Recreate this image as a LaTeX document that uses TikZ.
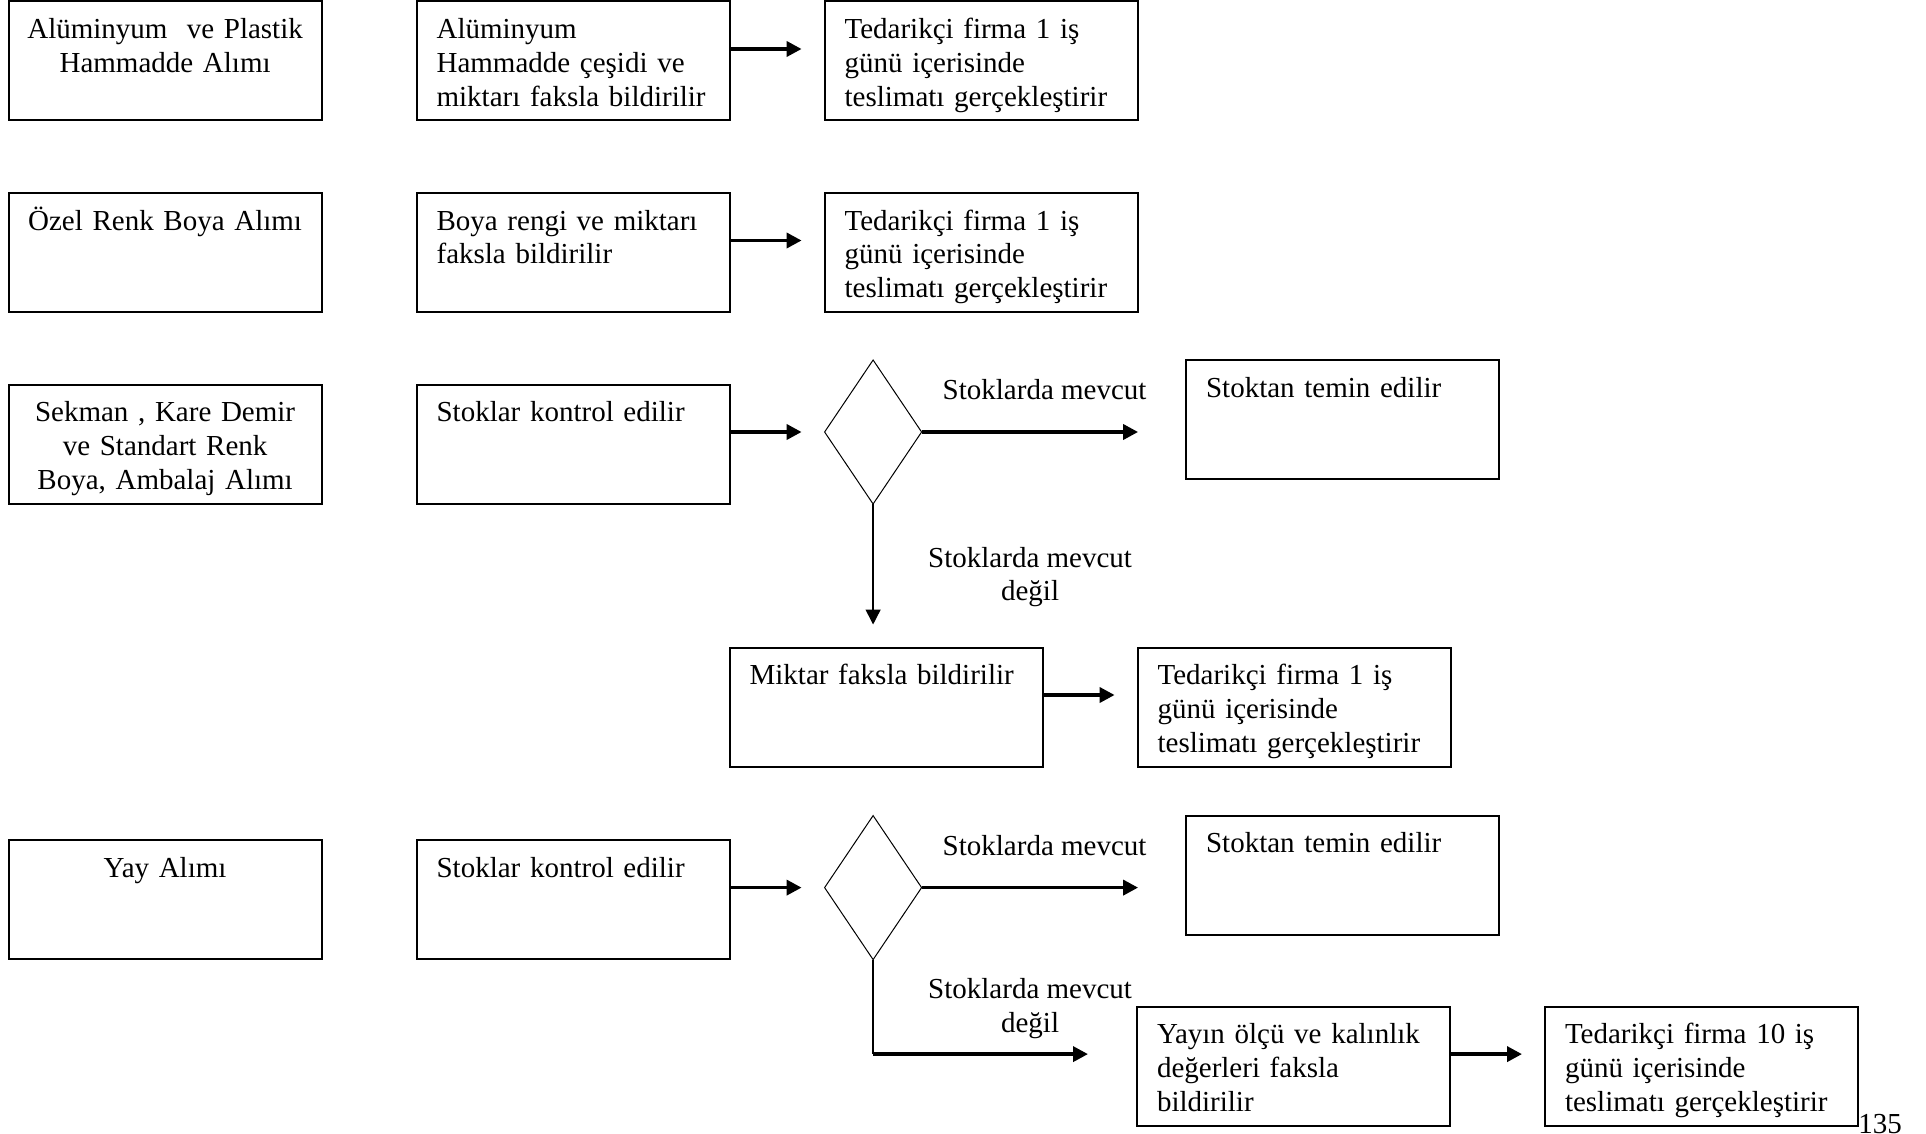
\documentclass[tikz,border=0pt]{standalone}
\usepackage{fontspec}
\setmainfont{Liberation Serif}
\usetikzlibrary{shapes.geometric, arrows.meta, positioning}
\tikzstyle{box} = [rectangle, draw=black, line width=1pt, outer sep=0pt, minimum width=156.5pt, minimum height=59.5pt, inner xsep=10pt, inner ysep=0pt, text width=136.5pt, text height=18.6pt, text depth=40.9pt, align=left]
\tikzstyle{source} = [box, align=center, inner xsep=6pt, text width=144.5pt]
\tikzstyle{decision} = [diamond, draw=black, line width=0.5pt, outer sep=0pt, minimum width=48.5pt, minimum height=72pt, inner sep=0pt]
\tikzstyle{branch} = [align=center, inner sep=0pt]
\tikzstyle{arrow} = [line width=1.8pt, -{Triangle[length=7.5pt,width=7.5pt]}, shorten >=11.5pt]

\begin{document}
\begin{tikzpicture}[x=0.5pt, y=-0.5pt, node distance=36.25pt and 47.5pt, every node/.style={font=\fontsize{14.5pt}{16.9pt}\selectfont}]
    \useasboundingbox (0,0) rectangle (1926,1134);

    % hammadde
    \node (buy1) [source, anchor=north west] at (8.6,1.5) {Alüminyum~ ve Plastik\\Hammadde Alımı};
    \node (info1) [box, right=of buy1] {Alüminyum\\Hammadde çeşidi ve\\miktarı faksla bildirilir};
    \node (supply1) [box, right=of info1] {Tedarikçi firma 1 iş\\günü içerisinde\\teslimatı gerçekleştirir};

    % boya
    \node (buy2) [source, below=of buy1] {Özel Renk Boya Alımı};
    \node (info2) [box, right=of buy2] {Boya rengi ve miktarı\\faksla bildirilir};
    \node (supply2) [box, right=of info2] {Tedarikçi firma 1 iş\\günü içerisinde\\teslimatı gerçekleştirir};

    % stoklu malzemeler
    \node (buy3) [source, below=of buy2] {Sekman , Kare Demir\\ve Standart Renk\\Boya, Ambalaj Alımı};
    \node (check3) [box, right=of buy3] {Stoklar kontrol edilir};
    \node (dec3) [decision, right=of check3, yshift=6pt] {};
    \node (stock3) [box, right=156.5pt of dec3.north, anchor=north west] {Stoktan temin edilir};
    \node (fax3) [box, below right=72pt and 0pt of check3.south east] {Miktar faksla bildirilir};
    \node (supply3) [box, right=of fax3] {Tedarikçi firma 1 iş\\günü içerisinde\\teslimatı gerçekleştirir};
    \node (yes3) [branch] at ([xshift=61.5pt, yshift=21pt]dec3.east) {Stoklarda mevcut};
    \node (no3) [branch] at ([xshift=78.5pt, yshift=-36.5pt]dec3.south) {Stoklarda mevcut\\değil};

    % yay
    \node (buy4) [source, below=168.3pt of buy3] {Yay Alımı};
    \node (check4) [box, right=of buy4] {Stoklar kontrol edilir};
    \node (dec4) [decision, right=of check4, yshift=6pt] {};
    \node (stock4) [box, right=156.5pt of dec4.north, anchor=north west] {Stoktan temin edilir};
    \node (fax4) [box, below right=23.75pt and 203.7pt of check4.south east] {Yayın ölçü ve kalınlık\\değerleri faksla\\bildirilir};
    \node (supply4) [box, right=of fax4] {Tedarikçi firma 10 iş\\günü içerisinde\\teslimatı gerçekleştirir};
    \node (yes4) [branch] at ([xshift=61.5pt, yshift=21pt]dec4.east) {Stoklarda mevcut};
    \node (no4) [branch] at ([xshift=78.5pt, yshift=-24.5pt]dec4.south) {Stoklarda mevcut\\değil};
    \coordinate (turn4) at (dec4.south |- fax4.west);

    \node (page) [anchor=base west, inner sep=0pt] at (1858,1133) {135};

    \draw[arrow] ([yshift=6pt]info1.east) -- ([yshift=6pt]supply1.west);
    \draw[arrow] ([yshift=6pt]info2.east) -- ([yshift=6pt]supply2.west);

    \draw[arrow] (check3.east |- dec3.west) -- (dec3.west);
    \draw[arrow, shorten >=24pt] (dec3.east) -- (dec3.east -| stock3.west);
    \draw[arrow, line width=0.75pt] (dec3.south) -- (dec3.south |- fax3.north);
    \draw[arrow] ([yshift=6pt]fax3.east) -- ([yshift=6pt]supply3.west);

    \draw[arrow] (check4.east |- dec4.west) -- (dec4.west);
    \draw[arrow, shorten >=24pt] (dec4.east) -- (dec4.east -| stock4.west);
    \draw[line width=0.75pt] (dec4.south) -- ([yshift=6pt]turn4);
    \draw[arrow, shorten >=24.5pt] ([yshift=6pt]turn4) -- ([yshift=6pt]fax4.west);
    \draw[arrow] ([yshift=6pt]fax4.east) -- ([yshift=6pt]supply4.west);

\end{tikzpicture}
\end{document}
